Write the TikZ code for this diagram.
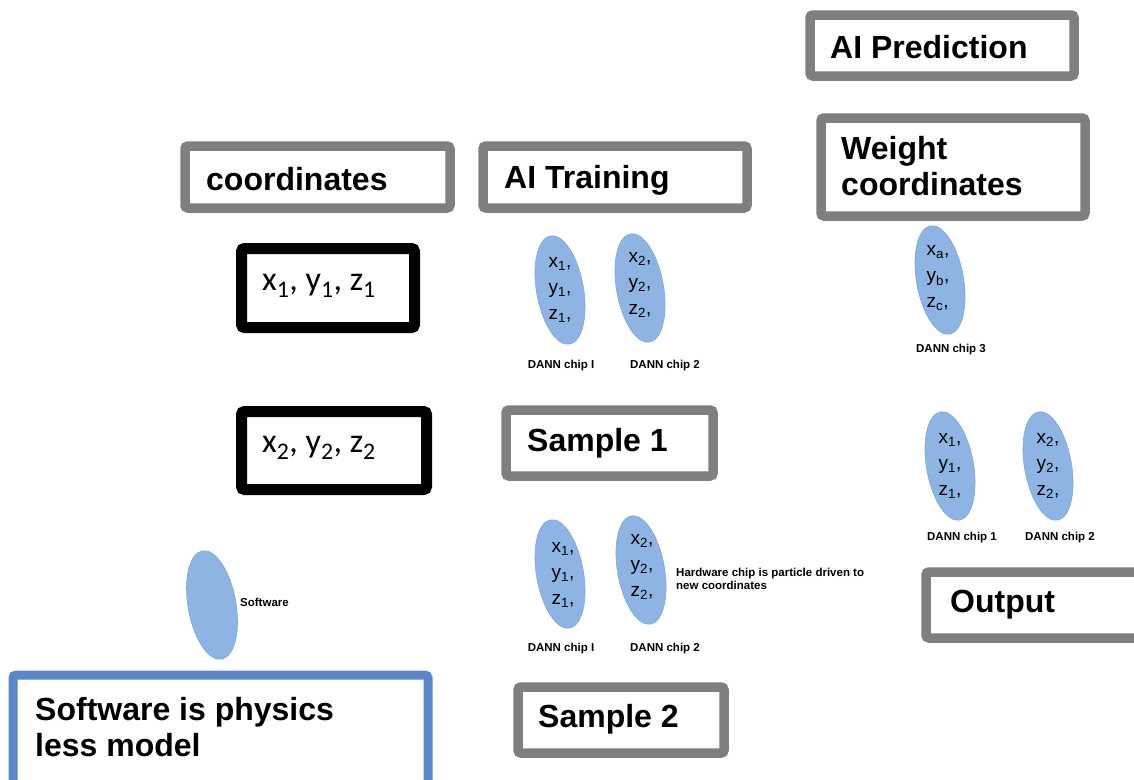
\documentclass[tikz,border=0pt]{standalone}
\usepackage{fontspec}
\setmainfont{Liberation Sans}
\newfontfamily\calib{Carlito}
\usetikzlibrary{shapes.geometric}
\definecolor{boxgray}{HTML}{7F7F7F}
\definecolor{chipblue}{HTML}{8DB4E2}
\definecolor{chipedge}{HTML}{7FA6D6}
\definecolor{swblue}{HTML}{5B87C6}
\tikzset{
  gbox/.style={draw=boxgray, line width=9.5pt, rounded corners=3pt, fill=white, inner sep=0pt},
  kbox/.style={draw=black, line width=11pt, rounded corners=3pt, fill=white, inner sep=0pt},
  bbox/.style={draw=swblue, line width=9pt, rounded corners=3pt, fill=white, inner sep=0pt},
  title/.style={font=\fontsize{32}{35}\selectfont\bfseries, anchor=west, inner sep=0pt, align=left},
  coordtxt/.style={font=\calib\fontsize{34}{38}\selectfont, anchor=west, inner sep=0pt},
  chip/.style={ellipse, fill=chipblue, draw=chipedge, line width=0.6pt,
    minimum width=47pt, minimum height=110pt, inner sep=0pt, rotate=10},
  chiptxt/.style={font=\fontsize{19}{26}\selectfont, align=left, inner sep=0pt},
  chiplbl/.style={font=\fontsize{11.5}{13}\selectfont\bfseries, inner sep=0pt},
  note/.style={font=\fontsize{11.5}{13}\selectfont\bfseries, align=left, inner sep=0pt, anchor=west}
}
\newcommand{\cv}[2]{#1\textsubscript{#2},}
\begin{document}
\begin{tikzpicture}[x=1pt,y=-1pt]
\useasboundingbox (0,0) rectangle (1134,779);

% gray boxes
\node[gbox, minimum width=264pt, minimum height=61pt] (pred) at (942,45.5) {};
\node[title] (predt) at (830,47) {AI Prediction};

\node[gbox, minimum width=264pt, minimum height=98pt] (weight) at (953,167) {};
\node[title, font=\fontsize{32}{36}\selectfont\bfseries] (weightt) at (841,166) {Weight\\coordinates};

\node[gbox, minimum width=265pt, minimum height=62pt] (coord) at (317.5,177) {};
\node[title] (coordt) at (206,179) {coordinates};

\node[gbox, minimum width=264pt, minimum height=62pt] (train) at (615,177) {};
\node[title] (traint) at (504,180) {AI Training};

\node[gbox, minimum width=207pt, minimum height=66pt] (s1) at (609.5,443) {};
\node[title] (s1t) at (527,443) {Sample 1};

\node[gbox, minimum width=206pt, minimum height=66pt] (s2) at (621,720) {};
\node[title] (s2t) at (538,719) {Sample 2};

\node[gbox, minimum width=216pt, minimum height=66pt] (out) at (1034,605) {};
\node[title] (outt) at (950,605) {Output};

% blue box
\node[bbox, minimum width=415pt, minimum height=110pt] (sw) at (220.5,730) {};
\node[title, font=\fontsize{32}{36}\selectfont\bfseries] (swt) at (35,727) {Software is physics\\less model};

% black boxes
\node[kbox, minimum width=173pt, minimum height=79pt] (k1) at (328,288) {};
\node[coordtxt] (k1t) at (262,286) {x\textsubscript{1}, y\textsubscript{1}, z\textsubscript{1}};

\node[kbox, minimum width=185pt, minimum height=78pt] (k2) at (334,450.5) {};
\node[coordtxt] (k2t) at (262,448) {x\textsubscript{2}, y\textsubscript{2}, z\textsubscript{2}};

% chips top row
\node[chip] (c1) at (560,290) {};
\node[chiptxt] (c1t) at (560,290) {\cv{x}{1}\\\cv{y}{1}\\\cv{z}{1}};
\node[chiplbl] (c1l) at (561,366) {DANN chip I};

\node[chip] (c2) at (640,288) {};
\node[chiptxt] (c2t) at (640,285) {\cv{x}{2}\\\cv{y}{2}\\\cv{z}{2}};
\node[chiplbl] (c2l) at (665,366) {DANN chip 2};

\node[chip] (c3) at (940,280) {};
\node[chiptxt] (c3t) at (938,278) {\cv{x}{a}\\\cv{y}{b}\\\cv{z}{c}};
\node[chiplbl] (c3l) at (951,350) {DANN chip 3};

% chips right
\node[chip] (r1) at (950,466) {};
\node[chiptxt] (r1t) at (950,466) {\cv{x}{1}\\\cv{y}{1}\\\cv{z}{1}};
\node[chiplbl] (r1l) at (962,538) {DANN chip 1};

\node[chip] (r2) at (1048,466) {};
\node[chiptxt] (r2t) at (1048,466) {\cv{x}{2}\\\cv{y}{2}\\\cv{z}{2}};
\node[chiplbl] (r2l) at (1060,538) {DANN chip 2};

% chips bottom
\node[chip] (b1) at (560,574) {};
\node[chiptxt] (b1t) at (563,575) {\cv{x}{1}\\\cv{y}{1}\\\cv{z}{1}};
\node[chiplbl] (b1l) at (561,649) {DANN chip I};

\node[chip] (b2) at (641,570) {};
\node[chiptxt] (b2t) at (642,567) {\cv{x}{2}\\\cv{y}{2}\\\cv{z}{2}};
\node[chiplbl] (b2l) at (665,649) {DANN chip 2};

\node[note] (hw) at (676,579) {Hardware chip is particle driven to\\new coordinates};

% software
\node[chip, minimum width=48pt, minimum height=110pt] (swc) at (212,605) {};
\node[chiplbl, anchor=west] (swl) at (240,602) {Software};
\end{tikzpicture}
\end{document}
